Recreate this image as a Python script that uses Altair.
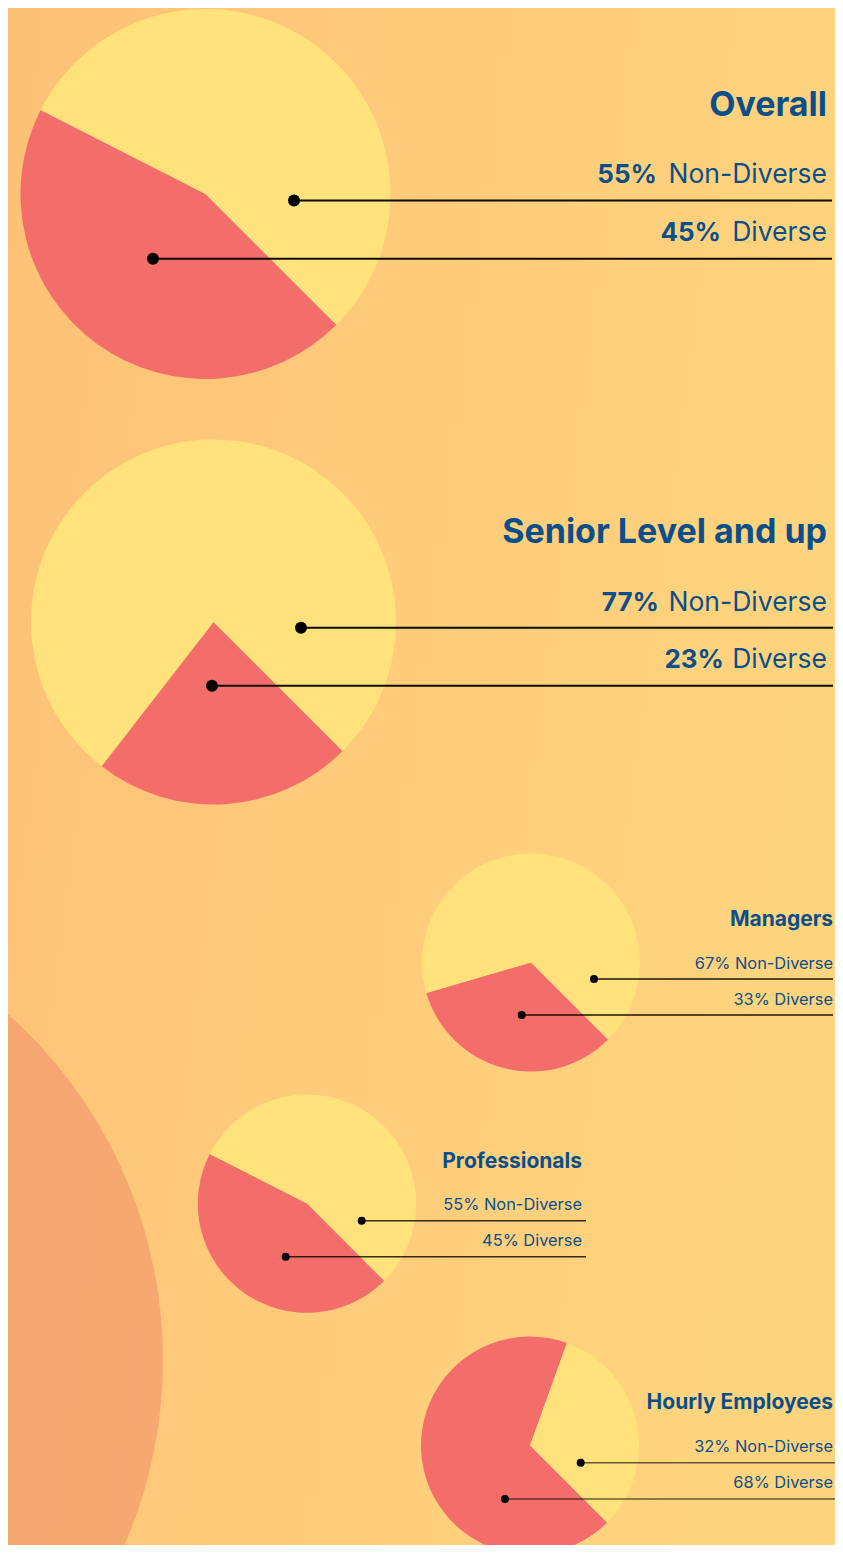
import math
import altair as alt
import pandas as pd

# ---------------- data ----------------
categories = ["Overall", "Senior Level and up", "Managers", "Professionals", "Hourly Employees"]
non_diverse = [55, 77, 67, 55, 32]
diverse = [45, 23, 33, 45, 68]
segment_names = ["Non-Diverse", "Diverse"]

# ---------------- layout (reference pixel space) ----------------
layout = {
    "Overall": dict(cx=205.5, cy=194, r=185, big=True,
                    dot_nd=(294, 200.5), dot_d=(153, 258.7), line_end=832,
                    right=827, title_y=115.7, lab_y=(183.3, 241.0), pct_end=(657, 721)),
    "Senior Level and up": dict(cx=213.5, cy=622, r=182.5, big=True,
                    dot_nd=(301, 627.7), dot_d=(212, 685.7), line_end=833,
                    right=827, title_y=543.3, lab_y=(611.0, 668.3), pct_end=(659, 724)),
    "Managers": dict(cx=531, cy=962.5, r=109, big=False,
                    dot_nd=(594, 979), dot_d=(521.7, 1015), line_end=833,
                    right=833, title_y=926, lab_y=(969.3, 1005), pct_end=None),
    "Professionals": dict(cx=307, cy=1203.6, r=109.2, big=False,
                    dot_nd=(361.7, 1220.7), dot_d=(285.7, 1256.7), line_end=586,
                    right=582, title_y=1168, lab_y=(1210, 1245.7), pct_end=None),
    "Hourly Employees": dict(cx=530, cy=1445.5, r=109, big=False,
                    dot_nd=(580.7, 1462.7), dot_d=(505, 1499), line_end=836.5,
                    right=833, title_y=1409, lab_y=(1452.3, 1488.3), pct_end=None),
}
line_opacity = {"Overall": 0.95, "Senior Level and up": 0.95, "Managers": 0.9,
                "Professionals": 0.8, "Hourly Employees": 0.6}

TEXT_COLOR = "#0B4F8A"
YELLOW = "#FFE27B"
RED = "#F36E6A"
FONT = "Inter"

# ---------------- tables ----------------
pie_rows, rule_rows, dot_rows, bold_rows, reg_rows = [], [], [], [], []
for cat, nd, d in zip(categories, non_diverse, diverse):
    L = layout[cat]
    total = nd + d
    # Diverse slice first (starts at 135deg clockwise from north), then Non-Diverse
    pie_rows.append(dict(pie=cat, segment="Diverse", value=d, t0=0.0, t1=d / total,
                         cx=L["cx"], cy=L["cy"], r=L["r"]))
    pie_rows.append(dict(pie=cat, segment="Non-Diverse", value=nd, t0=d / total, t1=1.0,
                         cx=L["cx"], cy=L["cy"], r=L["r"]))
    big = L["big"]
    sw = 2 if big else 1.5
    dsize = (2 * (6 if big else 4)) ** 2  # vega circle size = (diameter)^2
    for (dx, dy), val, name, ly, k in [(L["dot_nd"], nd, "Non-Diverse", L["lab_y"][0], 0),
                                       (L["dot_d"], d, "Diverse", L["lab_y"][1], 1)]:
        rule_rows.append(dict(x=dx, x2=L["line_end"], y=dy, sw=sw, op=line_opacity[cat]))
        dot_rows.append(dict(x=dx, y=dy, s=dsize))
        if big:
            bold_rows.append(dict(text=f"{val}%", x=L["pct_end"][k], y=ly, fs=26))
            reg_rows.append(dict(text=name, x=L["right"], y=ly, fs=26.5))
        else:
            reg_rows.append(dict(text=f"{val}% {name}", x=L["right"], y=ly, fs=16.4))
    bold_rows.append(dict(text=cat, x=L["right"], y=L["title_y"], fs=34 if big else 21))

pies = pd.DataFrame(pie_rows)
rules = pd.DataFrame(rule_rows)
dots = pd.DataFrame(dot_rows)
bolds = pd.DataFrame(bold_rows)
regs = pd.DataFrame(reg_rows)

# chart sits inside the page's 8px margin
W, H = 827, 1537
xs = alt.Scale(domain=[8, 8 + W], nice=False, zero=False)
ys = alt.Scale(domain=[8, 8 + H], nice=False, zero=False, reverse=True)

bg = alt.Chart(alt.Data(values=[{"a": 1}])).mark_rect(
    fill=alt.LinearGradient(
        gradient="linear", x1=0, y1=0, x2=1, y2=0.25,
        stops=[alt.GradientStop(color="#FCC176", offset=0),
               alt.GradientStop(color="#FECB7B", offset=0.5),
               alt.GradientStop(color="#FFD47E", offset=1)]),
).encode(x=alt.value(0), x2=alt.value("width"), y=alt.value(0), y2=alt.value("height"))

BIG_R = 463
big_circle = alt.Chart(alt.Data(values=[{"x": -300, "y": 1360}])).mark_circle(
    color="#F08E6C", opacity=0.55, size=(2 * BIG_R) ** 2, clip=True
).encode(x=alt.X("x:Q", scale=xs, axis=None), y=alt.Y("y:Q", scale=ys, axis=None))

arcs = alt.Chart(pies).mark_arc(stroke=None).encode(
    x=alt.X("cx:Q", scale=xs, axis=None),
    y=alt.Y("cy:Q", scale=ys, axis=None),
    theta=alt.Theta("t0:Q", stack=None,
                    scale=alt.Scale(domain=[0, 1], range=[3 * math.pi / 4, 3 * math.pi / 4 + 2 * math.pi])),
    theta2="t1:Q",
    radius=alt.Radius("r:Q", scale=None),
    color=alt.Color("segment:N", scale=alt.Scale(domain=segment_names, range=[YELLOW, RED]), legend=None),
)

lines = alt.Chart(rules).mark_rule(color="#000000").encode(
    x=alt.X("x:Q", scale=xs, axis=None), x2="x2:Q",
    y=alt.Y("y:Q", scale=ys, axis=None),
    strokeWidth=alt.StrokeWidth("sw:Q", scale=None),
    opacity=alt.Opacity("op:Q", scale=None),
)

dotmarks = alt.Chart(dots).mark_circle(color="#000000", opacity=1).encode(
    x=alt.X("x:Q", scale=xs, axis=None),
    y=alt.Y("y:Q", scale=ys, axis=None),
    size=alt.Size("s:Q", scale=None),
)

bold_text = alt.Chart(bolds).mark_text(
    align="right", baseline="alphabetic", font=FONT, fontWeight="bold", color=TEXT_COLOR
).encode(
    x=alt.X("x:Q", scale=xs, axis=None), y=alt.Y("y:Q", scale=ys, axis=None),
    text="text:N", size=alt.Size("fs:Q", scale=None),
)

reg_text = alt.Chart(regs).mark_text(
    align="right", baseline="alphabetic", font=FONT, fontWeight="normal", color=TEXT_COLOR
).encode(
    x=alt.X("x:Q", scale=xs, axis=None), y=alt.Y("y:Q", scale=ys, axis=None),
    text="text:N", size=alt.Size("fs:Q", scale=None),
)

chart = alt.layer(bg, big_circle, arcs, lines, dotmarks, bold_text, reg_text).properties(
    width=W, height=H, padding=0, autosize=alt.AutoSizeParams(type="none"),
    background="#FDC97A",
).configure_view(stroke=None)

chart.save("out.html", embed_options={"renderer": "svg", "actions": False})
